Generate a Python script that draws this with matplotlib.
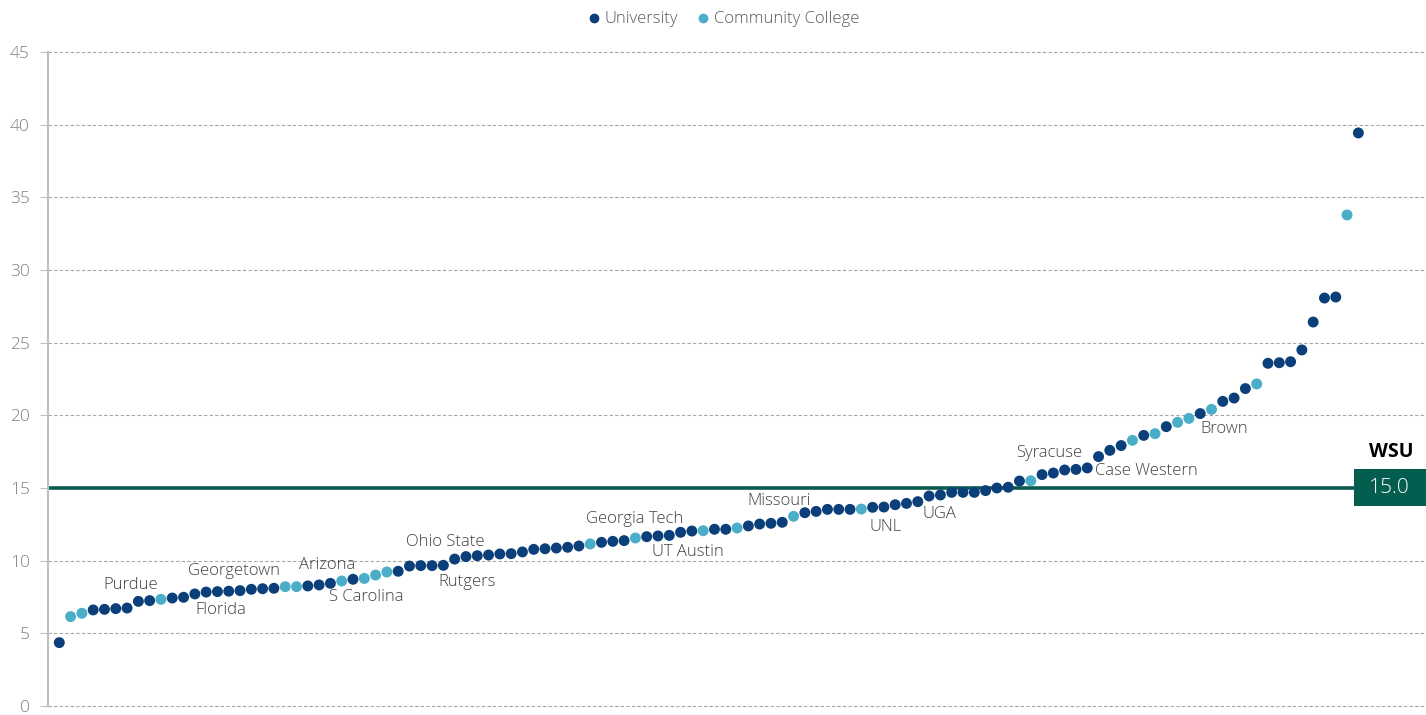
import matplotlib.pyplot as plt
import matplotlib.transforms as mtransforms
from matplotlib.lines import Line2D
from matplotlib.patches import Rectangle

plt.rcParams['font.family'] = ['Open Sans', 'DejaVu Sans']
plt.rcParams['font.weight'] = 'light'

# sorted values, one per institution
values = [4.36, 6.15, 6.38, 6.61, 6.65, 6.70, 6.74, 7.20, 7.25, 7.34,
          7.43, 7.48, 7.71, 7.84, 7.87, 7.90, 7.94, 8.03, 8.07, 8.10,
          8.21, 8.21, 8.26, 8.33, 8.44, 8.60, 8.72, 8.78, 9.01, 9.22,
          9.27, 9.63, 9.66, 9.66, 9.68, 10.11, 10.28, 10.34, 10.39, 10.46,
          10.48, 10.60, 10.78, 10.82, 10.87, 10.92, 11.01, 11.15, 11.26, 11.33,
          11.38, 11.56, 11.65, 11.70, 11.74, 11.95, 12.04, 12.06, 12.16, 12.16,
          12.25, 12.39, 12.52, 12.57, 12.64, 13.05, 13.30, 13.39, 13.53, 13.53,
          13.53, 13.55, 13.67, 13.69, 13.85, 13.94, 14.06, 14.45, 14.52, 14.70,
          14.70, 14.70, 14.82, 15.00, 15.05, 15.48, 15.50, 15.92, 16.03, 16.24,
          16.28, 16.38, 17.16, 17.59, 17.92, 18.28, 18.62, 18.74, 19.22, 19.52,
          19.79, 20.12, 20.41, 20.96, 21.19, 21.84, 22.16, 23.58, 23.62, 23.69,
          24.50, 26.42, 28.07, 28.14, 33.79, 39.43]

# U = University, C = Community College
kinds = list("UCCUUUUUUC"
             "UUUUUUUUUU"
             "CCUUUCUCCC"
             "UUUUUUUUUU"
             "UUUUUUUCUU"
             "UCUUUUUCUU"
             "CUUUUCUUUU"
             "UCUUUUUUUU"
             "UUUUUUCUUU"
             "UUUUUCUCUC"
             "CUCUUUCUUU"
             "UUUUCU")

# label name, point number (1-based), offset in pixels, alignment
labels = [("Purdue", 7, 4, 23, "center"),
          ("Florida", 15, 3, -18, "center"),
          ("Georgetown", 16, 5, 20, "center"),
          ("Arizona", 25, -3, 18, "center"),
          ("S Carolina", 28, 2, -19, "center"),
          ("Ohio State", 35, 2, 23, "center"),
          ("Rutgers", 37, 1, -25, "center"),
          ("Georgia Tech", 52, -1, 19, "center"),
          ("UT Austin", 57, -4, -21, "center"),
          ("Missouri", 65, -3, 21, "center"),
          ("UNL", 74, 2, -20, "center"),
          ("UGA", 79, -1, -19, "center"),
          ("Syracuse", 89, -4, 20, "center"),
          ("Case Western", 92, 8, -3, "left"),
          ("Brown", 104, 1, -28, "center")]

wsu = 15.0

colors = {"U": "#0a3f7a", "C": "#4aaec8"}
names = {"U": "University", "C": "Community College"}

fig = plt.figure(figsize=(14.26, 7.15), dpi=100)
ax = fig.add_axes([48 / 1426, 9 / 715, 1377 / 1426, 654 / 715])

x = list(range(1, len(values) + 1))
ax.scatter(x, values, s=62, c=[colors[k] for k in kinds], zorder=3, linewidths=0)

for name, i, dx, dy, ha in labels:
    ax.annotate(name, (i, values[i - 1]), xytext=(dx, dy), textcoords='offset pixels',
                ha=ha, va='center', fontsize=12, color='#404040')

# WSU reference line and value box
ax.axhline(wsu, color='#0b5a4e', lw=2.6, zorder=2)
trans = mtransforms.blended_transform_factory(ax.transAxes, ax.transData)
ax.add_patch(Rectangle((1306 / 1377, wsu - 1.27), 0.06, 2.55, transform=trans,
                       facecolor='#035e50', edgecolor='none', clip_on=False, zorder=4))
ax.text(1341 / 1377, wsu, f"{wsu:.1f}", transform=trans, ha='center', va='center',
        color='white', fontsize=15, zorder=5)
ax.text(1343 / 1377, wsu + 2.5, "WSU", transform=trans, ha='center', va='center',
        color='black', fontsize=14, fontweight='bold', zorder=5)

ax.set_xlim(0, 121.9)
ax.set_ylim(0, 45)
ax.set_yticks(range(0, 46, 5))
ax.set_xticks([])
ax.yaxis.grid(True, linestyle=(0, (3, 2)), color='#a6a6a6', lw=0.8, clip_on=False)
ax.set_axisbelow(True)
for s in ['top', 'right', 'bottom']:
    ax.spines[s].set_visible(False)
ax.spines['left'].set_color('#bfbfbf')
ax.spines['left'].set_linewidth(1.5)
ax.tick_params(axis='y', length=6, color='#bfbfbf', labelsize=12.5, labelcolor='#808080', pad=7)

handles = [Line2D([], [], marker='o', ls='', color=colors[k], markersize=6, label=names[k])
           for k in ["U", "C"]]
fig.legend(handles=handles, loc='upper center', bbox_to_anchor=(0.506, 1.005), ncol=2,
           frameon=False, fontsize=12, labelcolor='#595959', handletextpad=0.05,
           columnspacing=0.9, handlelength=1.2)

fig.savefig('out.png', dpi=100)
